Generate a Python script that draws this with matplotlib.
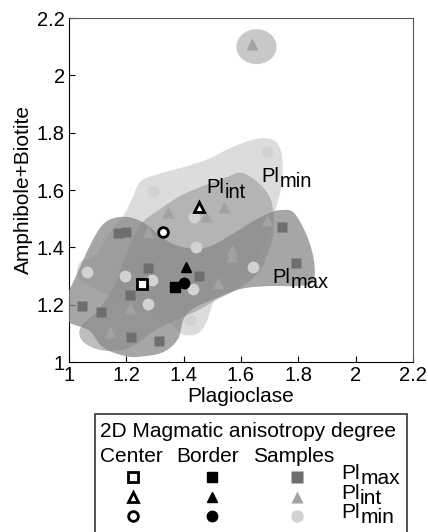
import numpy as np
import matplotlib
matplotlib.use("Agg")
import matplotlib.pyplot as plt
from matplotlib.patches import Polygon, Ellipse, Rectangle

plt.rcParams["font.family"] = ["Liberation Sans", "DejaVu Sans"]

# sample points (Plagioclase, Amphibole+Biotite)
plmax_x = [1.045, 1.111, 1.17, 1.20, 1.212, 1.216, 1.275, 1.313, 1.452, 1.744, 1.793]
plmax_y = [1.195, 1.175, 1.45, 1.452, 1.234, 1.087, 1.328, 1.073, 1.30, 1.471, 1.346]

plint_x = [1.143, 1.212, 1.275, 1.347, 1.478, 1.540, 1.519, 1.567, 1.567, 1.692, 1.637]
plint_y = [1.105, 1.188, 1.454, 1.522, 1.508, 1.539, 1.277, 1.39, 1.37, 1.496, 2.11]

plmin_x = [1.062, 1.195, 1.288, 1.275, 1.292, 1.436, 1.442, 1.432, 1.421, 1.643, 1.689]
plmin_y = [1.314, 1.30, 1.286, 1.202, 1.598, 1.505, 1.402, 1.255, 1.147, 1.332, 1.733]

# center / border averages
center_x = [1.254, 1.453, 1.327]
center_y = [1.272, 1.542, 1.454]
border_x = [1.369, 1.409, 1.402]
border_y = [1.260, 1.331, 1.276]

# outlines of the shaded fields
plmin_field = [(1.03, 1.30), (1.04, 1.35), (1.09, 1.37), (1.14, 1.45), (1.19, 1.51),
               (1.22, 1.57), (1.25, 1.63), (1.31, 1.655), (1.40, 1.68), (1.49, 1.71),
               (1.57, 1.75), (1.665, 1.78), (1.725, 1.765), (1.745, 1.70), (1.74, 1.61),
               (1.72, 1.53), (1.69, 1.43), (1.64, 1.33), (1.57, 1.27), (1.51, 1.22),
               (1.48, 1.14), (1.45, 1.10), (1.40, 1.095), (1.36, 1.13), (1.30, 1.18),
               (1.18, 1.22), (1.08, 1.26)]
plint_field = [(1.25, 1.48), (1.32, 1.535), (1.39, 1.58), (1.47, 1.615), (1.55, 1.645),
               (1.60, 1.66), (1.655, 1.63), (1.70, 1.575), (1.715, 1.50), (1.71, 1.43),
               (1.69, 1.37), (1.66, 1.31), (1.595, 1.258), (1.52, 1.22), (1.45, 1.18),
               (1.38, 1.15), (1.30, 1.11), (1.21, 1.05), (1.12, 1.04), (1.05, 1.07),
               (1.04, 1.12), (1.10, 1.18), (1.16, 1.27), (1.20, 1.38)]
plmax_field = [(0.98, 1.20), (1.02, 1.29), (1.07, 1.40), (1.11, 1.47), (1.15, 1.50),
               (1.21, 1.505), (1.27, 1.48), (1.33, 1.43), (1.40, 1.40), (1.48, 1.40),
               (1.56, 1.44), (1.64, 1.49), (1.70, 1.52), (1.74, 1.53), (1.785, 1.52),
               (1.83, 1.44), (1.855, 1.35), (1.85, 1.28), (1.80, 1.265), (1.70, 1.265),
               (1.60, 1.255), (1.52, 1.225), (1.44, 1.19), (1.40, 1.15), (1.38, 1.08),
               (1.33, 1.035), (1.26, 1.02), (1.20, 1.02), (1.12, 1.05), (1.07, 1.11),
               (1.00, 1.14)]
outlier_center = (1.654, 2.10)
outlier_size = (0.14, 0.122)

x_ticks = [1, 1.2, 1.4, 1.6, 1.8, 2, 2.2]
tick_labels = ["1", "1.2", "1.4", "1.6", "1.8", "2", "2.2"]

c_max, c_int, c_min = "#6e6e6e", "#a2a2a2", "#d2d2d2"


def smooth_closed(pts, n=24):
    # closed Catmull-Rom curve through the outline points
    p = np.array(pts)
    N = len(p)
    t = np.linspace(0, 1, n, endpoint=False)[:, None]
    segs = []
    for i in range(N):
        p0, p1, p2, p3 = p[i - 1], p[i], p[(i + 1) % N], p[(i + 2) % N]
        segs.append(0.5 * (2 * p1 + (p2 - p0) * t + (2 * p0 - 5 * p1 + 4 * p2 - p3) * t ** 2
                           + (-p0 + 3 * p1 - 3 * p2 + p3) * t ** 3))
    return np.vstack(segs)


def pl_label(ax, x, y, sub, transform, size=14.5):
    t = ax.text(x, y, "Pl", fontsize=size, ha="left", va="baseline", transform=transform)
    ax.annotate(sub, xy=(1, 0), xycoords=t, xytext=(0, -3.5), textcoords="offset points",
                fontsize=size, ha="left", va="bottom")


fig = plt.figure(figsize=(4.28, 5.32), dpi=100)
ax = fig.add_axes([69 / 428, 170 / 532, 344 / 428, 344 / 532])

ax.add_patch(Polygon(smooth_closed(plmin_field), closed=True, fc="#dcdcdc", ec="none", zorder=1))
ax.add_patch(Polygon(smooth_closed(plint_field), closed=True, fc="#a3a3a3", alpha=0.7, ec="none", zorder=2))
ax.add_patch(Polygon(smooth_closed(plmax_field), closed=True, fc="#888888", alpha=0.75, ec="none", zorder=3))
ax.add_patch(Ellipse(outlier_center, outlier_size[0], outlier_size[1], fc="#c8c8c8", ec="none", zorder=2))

ax.plot(plmin_x, plmin_y, "o", color=c_min, ms=8.5, mec="none", zorder=4)
ax.plot(plint_x, plint_y, "^", color=c_int, ms=9, mec="none", zorder=4)
ax.plot(plmax_x, plmax_y, "s", color=c_max, ms=7.5, mec="none", zorder=4)

for m, cx, cy, bx, by in zip(["s", "^", "o"], center_x, center_y, border_x, border_y):
    ax.plot(cx, cy, m, mfc="white", mec="black", mew=2, ms=7, zorder=6)
    ax.plot(bx, by, m, color="black", ms=7.5, zorder=5)

pl_label(ax, 1.48, 1.59, "int", ax.transData)
pl_label(ax, 1.671, 1.628, "min", ax.transData)
pl_label(ax, 1.71, 1.276, "max", ax.transData)

ax.set_xlim(1, 2.2)
ax.set_ylim(1, 2.2)
ax.set_xticks(x_ticks)
ax.set_xticklabels(tick_labels)
ax.set_yticks(x_ticks)
ax.set_yticklabels(tick_labels)
ax.tick_params(direction="in", length=4, labelsize=14.5, pad=3)
for s in ["top", "right"]:
    ax.spines[s].set_color("#555555")
ax.set_xlabel("Plagioclase", fontsize=15, labelpad=1)
ax.set_ylabel("Amphibole+Biotite", fontsize=15, labelpad=3)

# legend block
lax = fig.add_axes([95 / 428, 0, 312 / 428, 118 / 532])
lax.set_xlim(0, 1)
lax.set_ylim(0, 1)
lax.axis("off")
lax.add_patch(Rectangle((0, -0.2), 1, 1.2, fill=False, ec="#333333", lw=1.2, clip_on=False))
lax.text(0.016, 0.85, "2D Magmatic anisotropy degree", fontsize=15, va="center")
lax.text(0.016, 0.64, "Center", fontsize=15, va="center")
lax.text(0.26, 0.64, "Border", fontsize=15, va="center")
lax.text(0.505, 0.64, "Samples", fontsize=15, va="center")

rows_y = [0.466, 0.297, 0.136]
markers = ["s", "^", "o"]
sample_colors = [c_max, c_int, c_min]
subs = ["max", "int", "min"]
for ry, m, sc, sub in zip(rows_y, markers, sample_colors, subs):
    lax.plot(0.122, ry, m, mfc="white", mec="black", mew=2, ms=7)
    lax.plot(0.375, ry, m, color="black", ms=7.5)
    lax.plot(0.647, ry, m, color=sc, ms=9 if m != "s" else 8, mec="none")
    pl_label(lax, 0.79, ry - 0.02, sub, lax.transAxes, size=15)

fig.savefig("out.png", dpi=100)
